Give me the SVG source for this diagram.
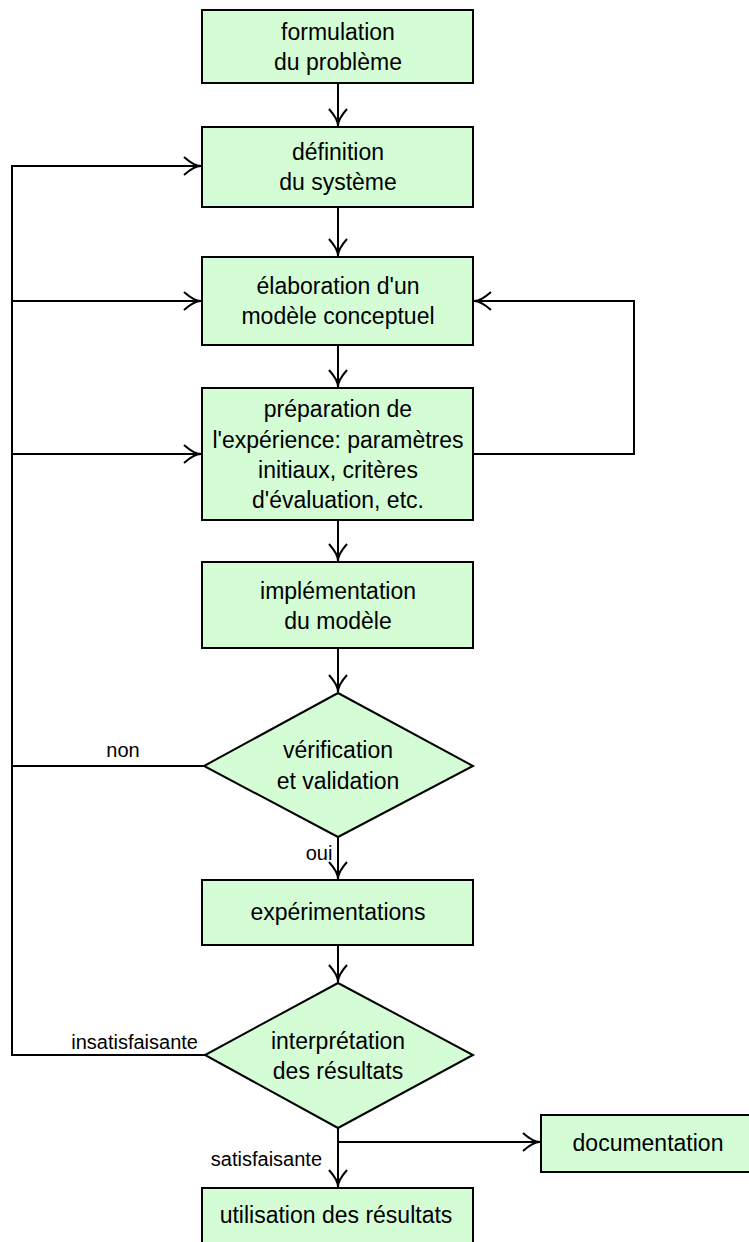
<svg xmlns="http://www.w3.org/2000/svg" width="749" height="1242" viewBox="0 0 749 1242">
<style>
.n{fill:#d5fdd5;stroke:#000;stroke-width:2}
.t{font-family:"Liberation Sans",Arial,sans-serif;font-size:23px;text-anchor:middle;fill:#000}
.l{font-family:"Liberation Sans",Arial,sans-serif;font-size:20px;fill:#000}
.c{fill:none;stroke:#000;stroke-width:2}
</style>
<defs>
<marker id="a" markerUnits="userSpaceOnUse" viewBox="-20 -11 22 22" refX="0" refY="0" markerWidth="22" markerHeight="22" orient="auto">
<path d="M-17,-9 Q-7,0 0,0 Q-7,0 -17,9" fill="none" stroke="#000" stroke-width="2"/>
</marker>
</defs>
<rect width="749" height="1242" fill="#fff"/>
<g id="connectors">
<path class="c" d="M338,83 V126" marker-end="url(#a)"/>
<path class="c" d="M338,207 V256" marker-end="url(#a)"/>
<path class="c" d="M338,345 V387" marker-end="url(#a)"/>
<path class="c" d="M338,520 V561" marker-end="url(#a)"/>
<path class="c" d="M338,648 V692" marker-end="url(#a)"/>
<path class="c" d="M338,837 V879" marker-end="url(#a)"/>
<path class="c" d="M338,945 V982" marker-end="url(#a)"/>
<path class="c" d="M338,1128 V1187" marker-end="url(#a)"/>
<path class="c" d="M338,1142 H540" marker-end="url(#a)"/>
<path class="c" d="M473,454 H634 V301 H474" marker-end="url(#a)"/>
<path class="c" d="M205,1055 H12 V166 H201" marker-end="url(#a)"/>
<path class="c" d="M12,301 H201" marker-end="url(#a)"/>
<path class="c" d="M12,454 H201" marker-end="url(#a)"/>
<path class="c" d="M204,766 H12"/>
<text class="l" x="123" y="757" text-anchor="middle">non</text>
<text class="l" x="319" y="860" text-anchor="middle">oui</text>
<text class="l" x="198" y="1049" text-anchor="end">insatisfaisante</text>
<text class="l" x="322" y="1166" text-anchor="end">satisfaisante</text>
</g>
<g id="n1"><rect class="n" x="202" y="10" width="271" height="73"/>
<text class="t" x="338" y="40">formulation</text><text class="t" x="338" y="70">du problème</text></g>
<g id="n2"><rect class="n" x="202" y="127" width="271" height="80"/>
<text class="t" x="338" y="160">définition</text><text class="t" x="338" y="190">du système</text></g>
<g id="n3"><rect class="n" x="202" y="257" width="271" height="88"/>
<text class="t" x="338" y="294">élaboration d'un</text><text class="t" x="338" y="324">modèle conceptuel</text></g>
<g id="n4"><rect class="n" x="202" y="388" width="271" height="132"/>
<text class="t" x="338" y="417">préparation de</text><text class="t" x="338" y="448">l'expérience: paramètres</text><text class="t" x="338" y="478">initiaux, critères</text><text class="t" x="338" y="508">d'évaluation, etc.</text></g>
<g id="n5"><rect class="n" x="202" y="562" width="271" height="86"/>
<text class="t" x="338" y="599">implémentation</text><text class="t" x="338" y="629">du modèle</text></g>
<g id="n6"><polygon class="n" points="338,693 473,766 338,837 204,766"/>
<text class="t" x="338" y="758">vérification</text><text class="t" x="338" y="789">et validation</text></g>
<g id="n7"><rect class="n" x="202" y="880" width="271" height="65"/>
<text class="t" x="338" y="920">expérimentations</text></g>
<g id="n8"><polygon class="n" points="338,983 473,1055 338,1128 205,1055"/>
<text class="t" x="338" y="1049">interprétation</text><text class="t" x="338" y="1079">des résultats</text></g>
<g id="n9"><rect class="n" x="541" y="1115" width="220" height="57"/>
<text class="t" x="648" y="1151">documentation</text></g>
<g id="n10"><rect class="n" x="202" y="1188" width="271" height="70"/>
<text class="t" x="336" y="1223">utilisation des résultats</text></g>
</svg>
